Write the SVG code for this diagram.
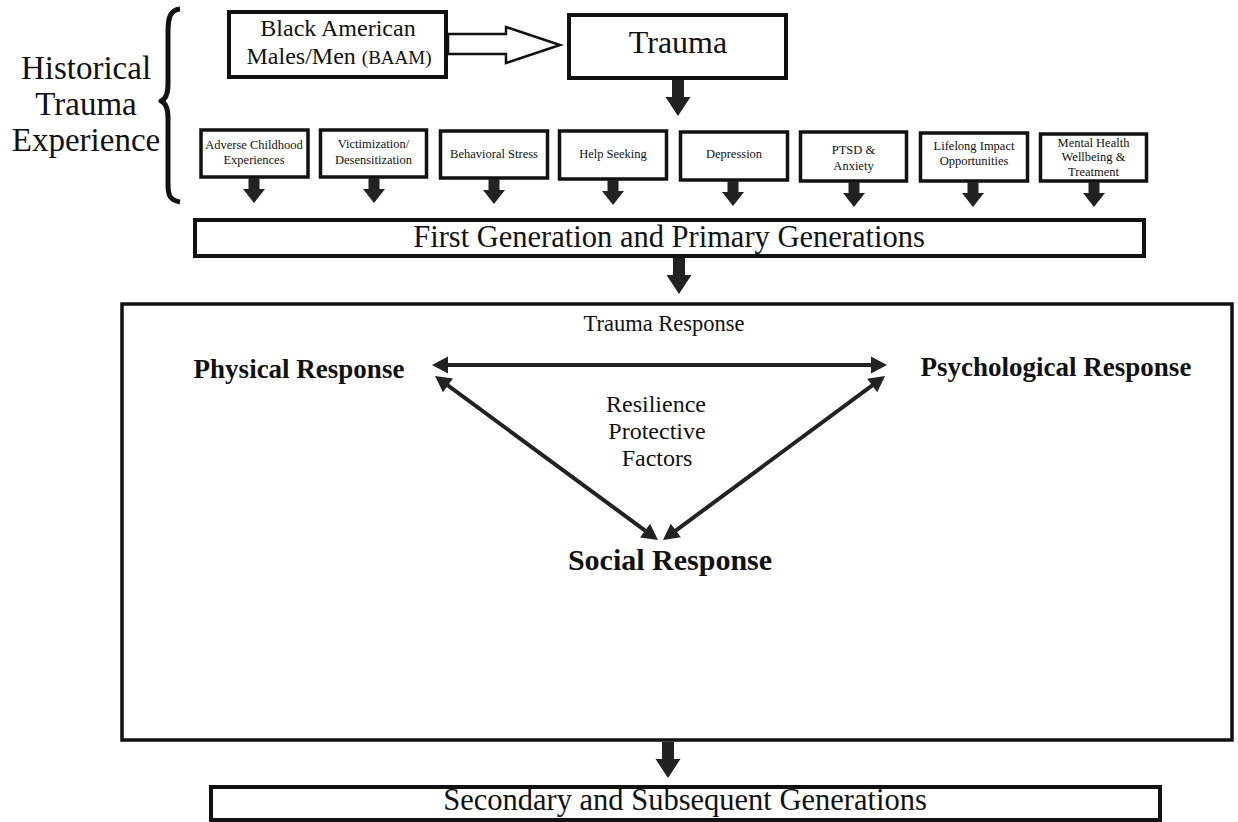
<svg xmlns="http://www.w3.org/2000/svg" xmlns:xlink="http://www.w3.org/1999/xlink" width="1238" height="822" viewBox="0 0 1238 822">
<style>
text{font-family:"Liberation Serif","Times New Roman",serif;fill:#111;text-anchor:middle}
.box{fill:#fff;stroke:#111;stroke-width:4}
.sbox{fill:#fff;stroke:#111;stroke-width:3.5}
.sm{font-size:12.5px}
.dn{fill:#222}
.dbl{stroke:#222;stroke-width:4;fill:none;marker-start:url(#ah);marker-end:url(#ah)}
.resp{font-size:27px;font-weight:bold}
</style>
<defs>
<path id="dnS" d="M-5.5,0 H5.5 V11 H11 L0,25 L-11,11 H-5.5 Z"/>
<path id="dnL" d="M-6,0 H6 V17 H12.5 L0,36 L-12.5,17 H-6 Z"/>
<marker id="ah" markerUnits="userSpaceOnUse" markerWidth="18" markerHeight="18" refX="6" refY="8.5" orient="auto-start-reverse" overflow="visible">
<path d="M0,0 L16,8.5 L0,17 Z" fill="#222"/>
</marker>
</defs>

<g id="historical">
<text x="86" y="79" font-size="33">Historical</text>
<text x="86" y="115" font-size="33">Trauma</text>
<text x="86" y="151" font-size="33">Experience</text>
<path d="M180,9 C170,10 168,18 168,32 L168,84 C168,94 166,99 161,101 C166,103 168,108 168,118 L168,184 C168,196 170,200 180,202" fill="none" stroke="#111" stroke-width="5" stroke-linejoin="round"/>
</g>

<g id="baam">
<rect class="box" x="229" y="12" width="217" height="65"/>
<text x="338" y="36" font-size="24">Black American</text>
<text x="339" y="64" font-size="24">Males/Men <tspan font-size="19">(BAAM)</tspan></text>
</g>

<g id="trauma">
<rect class="box" x="569" y="15" width="217" height="63"/>
<text x="678" y="53" font-size="32">Trauma</text>
</g>

<g id="n1"><rect class="sbox" x="201" y="130" width="107" height="47"/><text class="sm" x="254" y="149">Adverse Childhood</text><text class="sm" x="254" y="164">Experiences</text></g>
<g id="n2"><rect class="sbox" x="320.5" y="130" width="106" height="47"/><text class="sm" x="373.5" y="148">Victimization/</text><text class="sm" x="373.5" y="164">Desensitization</text></g>
<g id="n3"><rect class="sbox" x="440.5" y="131" width="107" height="47"/><text class="sm" x="494" y="158">Behavioral Stress</text></g>
<g id="n4"><rect class="sbox" x="559.5" y="131" width="107" height="48"/><text class="sm" x="613" y="158">Help Seeking</text></g>
<g id="n5"><rect class="sbox" x="680.5" y="132" width="107" height="48"/><text class="sm" x="734" y="158">Depression</text></g>
<g id="n6"><rect class="sbox" x="800.5" y="132" width="106" height="49"/><text class="sm" x="853.5" y="154">PTSD &amp;</text><text class="sm" x="853.5" y="170">Anxiety</text></g>
<g id="n7"><rect class="sbox" x="920.5" y="133" width="107" height="48"/><text class="sm" x="974" y="150">Lifelong Impact</text><text class="sm" x="974" y="165">Opportunities</text></g>
<g id="n8"><rect class="sbox" x="1040.5" y="134" width="106" height="47"/><text class="sm" x="1093.5" y="147">Mental Health</text><text class="sm" x="1093.5" y="161">Wellbeing &amp;</text><text class="sm" x="1093.5" y="176">Treatment</text></g>

<g id="first-gen">
<rect class="box" x="195" y="220" width="949" height="36"/>
<text x="669" y="247" font-size="30.5">First Generation and Primary Generations</text>
</g>

<g id="trauma-response">
<rect fill="#fff" stroke="#111" stroke-width="3.5" x="122" y="304" width="1110" height="436"/>
<text x="664" y="331" font-size="22.5">Trauma Response</text>
</g>
<g id="physical"><text class="resp" x="299" y="378">Physical Response</text></g>
<g id="psychological"><text class="resp" x="1056" y="376">Psychological Response</text></g>
<g id="social"><text x="670" y="570" font-size="30" font-weight="bold">Social Response</text></g>
<g id="resilience">
<text x="656" y="412" font-size="24">Resilience</text>
<text x="657" y="439" font-size="24">Protective</text>
<text x="657" y="466" font-size="24">Factors</text>
</g>

<g id="secondary">
<rect class="box" x="211" y="787" width="949" height="33"/>
<text x="685" y="810" font-size="30.5">Secondary and Subsequent Generations</text>
</g>

<g id="connectors">
<polygon points="448,34 506,34 506,27 560,45 506,63 506,54 448,54" fill="#fff" stroke="#111" stroke-width="2.5" stroke-linejoin="miter"/>
<use href="#dnL" class="dn" x="678" y="80"/>
<use href="#dnS" class="dn" x="254" y="178"/>
<use href="#dnS" class="dn" x="374" y="178"/>
<use href="#dnS" class="dn" x="494" y="179"/>
<use href="#dnS" class="dn" x="613" y="180"/>
<use href="#dnS" class="dn" x="733" y="181"/>
<use href="#dnS" class="dn" x="854" y="182"/>
<use href="#dnS" class="dn" x="973" y="182"/>
<use href="#dnS" class="dn" x="1094" y="182"/>
<use href="#dnL" class="dn" x="679" y="258"/>
<line class="dbl" x1="442" y1="365" x2="877" y2="365"/>
<line class="dbl" x1="443.1" y1="381.9" x2="649.9" y2="534.1"/>
<line class="dbl" x1="877" y1="381.9" x2="671" y2="534.1"/>
<use href="#dnL" class="dn" x="668" y="742"/>
</g>
</svg>
